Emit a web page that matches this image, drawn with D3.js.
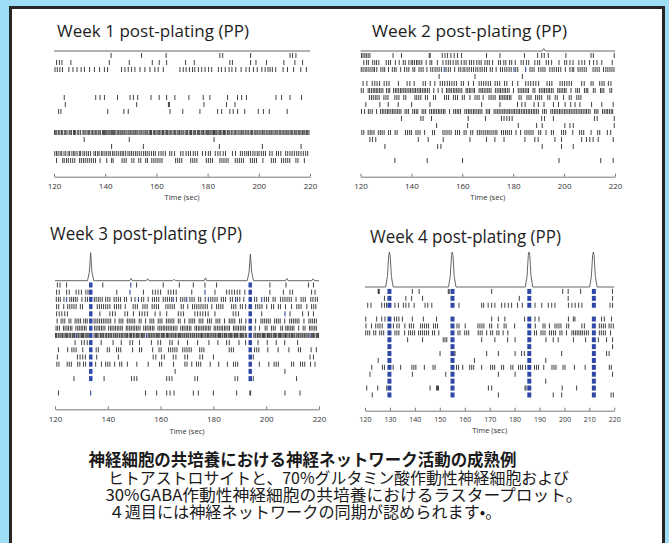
<!DOCTYPE html>
<html>
<head>
<meta charset="utf-8">
<script src="https://cdn.jsdelivr.net/npm/d3@7"></script>
<style>
html, body { margin: 0; padding: 0; background: #9fdcf5; }
svg { display: block; }
</style>
</head>
<body>
<svg id="chart" width="669" height="543"></svg>
<script>
// Spike times (sec) per electrode row, 16 rows per well
const week1Rows = [
  [142.3,154.2,163.8,184.8,185.9,196.8,212.2,213.2,214.5],
  [121.0,122.1,123.1,126.6,141.6,149.4,158.4,161.1,164.0,171.4,174.8,188.7,189.7,196.8,198.9,203.0,209.8,214.1,217.1],
  [120.4,121.3,122.3,123.3,125.8,127.4,129.0,130.6,131.9,133.9,135.8,137.8,139.7,140.9,146.4,147.7,149.0,150.3,151.6,153.6,155.5,157.5,159.4,160.7,162.7,169.2,170.5,171.6,172.9,174.1,175.0,176.4,177.7,179.0,180.4,181.6,184.2,185.4,186.9,188.4,189.5,191.0,193.1,195.0,196.3,197.9,199.4,201.2,202.5,203.6,204.4,205.3,206.6,209.5,211.2,213.6,216.4,218.6],
  [], [], [],
  [124.0,136.3,138.0,139.7,144.8,149.7,151.0,152.7,157.9,161.1,164.0,167.2,172.7,178.3,180.9,187.8,191.7,193.3,195.2,206.7,208.9,212.2,216.7],
  [124.4,152.3,164.7,165.1,178.6,187.4,190.7],
  [121.8,122.7,141.0,147.3,149.0,165.3,170.3,177.0,183.9,185.5,188.7,190.0,191.7,194.5,199.8,201.8,204.1,211.1],
  [], [],
  [120.2,120.7,121.1,121.8,122.3,122.9,123.4,124.2,124.6,125.1,125.9,126.3,126.8,127.6,128.0,128.5,129.3,129.7,130.4,131.3,131.7,132.2,132.9,133.4,133.8,134.5,135.0,135.6,136.1,136.5,137.2,137.6,138.1,138.9,139.3,139.7,140.2,140.6,141.1,141.5,141.9,142.4,142.8,143.3,143.7,144.2,144.9,145.3,145.8,146.2,146.7,147.3,147.7,148.2,148.9,149.3,149.8,150.4,150.9,151.3,151.9,152.4,152.8,153.5,154.0,154.4,155.1,155.6,156.0,156.6,157.2,157.7,158.1,158.8,159.3,159.8,160.3,160.9,161.3,161.8,162.4,162.8,163.4,163.9,164.3,164.9,165.4,165.8,166.5,167.0,167.4,168.1,168.5,169.0,169.6,170.0,170.5,171.2,171.7,172.1,172.8,173.3,173.7,174.4,174.8,175.3,176.0,176.4,176.9,177.5,177.9,178.4,179.0,179.5,179.9,180.4,180.9,181.3,181.8,182.3,182.7,183.2,183.6,184.1,184.7,185.1,185.6,186.2,186.6,187.1,187.8,188.3,188.7,189.4,189.9,190.6,191.0,191.5,192.2,192.7,193.3,193.8,194.2,194.9,195.4,195.9,196.6,197.1,197.5,198.2,198.8,199.3,199.7,200.4,200.9,201.5,202.0,202.4,203.1,203.6,204.1,204.7,205.1,205.6,206.3,206.7,207.2,207.9,208.3,208.7,209.4,209.8,210.3,210.9,211.4,211.8,212.5,212.9,213.3,214.0,214.5,214.9,215.6,216.0,216.5,217.1,217.6,218.0,218.6,219.1,219.6],
  [131.8,149.4,182.5],
  [142.5,154.9,184.6,201.4,216.5],
  [120.3,121.0,121.6,122.4,123.0,123.9,124.6,125.5,126.1,127.0,127.7,128.2,129.0,129.9,130.4,131.3,132.0,132.8,133.5,134.3,135.6,136.2,137.0,137.6,138.5,139.1,139.9,140.6,141.4,142.0,142.9,143.5,144.3,145.1,145.9,146.6,147.2,148.0,148.9,149.6,150.3,151.0,151.8,152.5,153.3,154.1,155.0,155.7,156.4,157.2,158.1,158.9,159.6,160.9,161.8,162.6,163.5,165.2,166.0,167.1,169.5,170.4,171.6,172.5,173.3,174.4,175.2,176.1,178.0,179.2,180.3,181.1,183.0,184.0,184.9,186.1,187.0,189.7,190.9,192.8,193.6,194.5,195.3,196.0,196.8,197.7,198.5,199.4,200.1,201.0,201.8,202.6,204.3,205.2,206.9,207.7,208.6,210.5,211.3,212.2,213.0,213.9,214.8,215.6,216.5,217.4,218.3,219.1],
  [121.0,123.4,124.0,124.9,125.6,126.5,127.3,128.1,130.0,130.7,131.5,132.2,133.0,133.8,134.6,135.4,136.2,138.0,140.6,142.5,143.1,146.6,147.4,148.2,150.4,151.2,153.1,153.9,155.8,156.5,158.2,159.0,159.8,160.6,161.4,162.2,167.5,168.3,169.1,169.9,173.4,174.2,175.0,175.8,179.5,180.3,181.1,181.9,184.8,185.6,186.4,187.2,188.0,190.8,191.6,192.4,193.2,194.0,196.7,197.5,198.3,199.1,201.6,204.9,205.7,206.5,208.9,209.7,210.5,211.3,212.1,214.5,215.3,217.8]
];

const week2Rows = [
  [120.4,121.0,121.7,122.3,123.0,123.7,132.8,136.1,147.0,147.4,152.1,153.2,154.2,155.5,156.8,158.1,159.7,169.5,174.8,184.4,189.6,191.2,192.2,193.8,200.7,210.6,211.5,219.7],
  [121.3,122.4,123.1,124.8,125.6,126.3,127.2,130.1,131.0,131.8,133.7,135.2,136.8,137.6,139.0,139.9,140.5,141.2,142.0,142.6,143.3,144.1,145.8,147.3,148.0,150.2,152.4,153.6,154.5,155.3,156.4,157.5,158.3,159.6,160.7,161.5,162.8,163.6,164.5,165.7,166.6,167.4,168.9,169.8,170.6,171.9,174.2,175.0,176.3,177.1,178.6,179.4,180.8,183.1,184.0,185.2,186.1,188.5,189.6,190.4,193.0,193.9,195.1,198.0,200.2,201.0,202.3,203.5,205.8,207.0,208.1,210.0,211.6,212.9,214.8,218.9],
  [120.3,121.0,121.8,122.5,123.3,124.1,124.9,125.5,126.4,128.0,128.8,129.5,131.0,132.5,133.3,134.0,135.8,137.3,138.2,139.0,140.6,141.3,143.0,143.8,144.6,146.1,147.6,148.4,149.3,150.1,150.9,151.8,153.6,154.5,155.3,157.0,158.6,159.4,160.3,161.0,161.9,162.7,163.6,164.4,165.3,166.1,167.0,167.8,168.7,169.5,171.0,171.8,173.3,175.0,175.8,176.7,177.5,178.4,179.2,181.0,181.8,186.6,187.4,188.2,190.0,190.9,191.7,192.5,194.4,195.3,196.1,197.0,197.8,198.7,200.5,202.3,203.2,203.8,205.5,206.3,207.1,207.9,208.7,211.4,212.2,213.0,213.8,215.5,216.4,217.2,218.0,218.8,219.6],
  [150.9,165.0,183.6],
  [121.0,122.5,124.6,125.6,126.5,127.5,129.3,130.3,131.2,134.9,138.3,139.4,141.1,144.6,145.5,147.4,149.2,151.3,152.2,153.1,154.1,155.0,155.9,156.8,157.7,159.6,160.5,162.4,164.4,166.6,167.5,168.4,169.3,170.2,171.1,172.9,173.8,174.7,176.6,177.5,179.7,181.8,184.9,185.9,186.9,187.9,188.9,190.0,193.3,194.3,195.2,198.4,199.3,200.2,201.1,202.0,202.9,206.9,207.9,210.6,211.4,214.0,214.9,215.7,217.4,218.4],
  [120.3,121.1,123.0,123.6,124.3,125.0,125.6,126.2,126.8,127.5,128.1,128.8,130.2,130.9,131.5,133.0,133.7,134.3,135.0,135.7,136.3,137.0,137.6,138.3,139.0,139.6,140.3,141.0,141.6,142.3,143.0,143.6,144.3,145.0,145.6,146.3,147.0,148.8,150.5,152.1,153.8,154.4,155.1,155.7,156.5,157.1,157.8,158.4,159.1,159.8,161.5,162.1,162.8,163.4,164.2,164.8,166.6,167.3,167.9,168.6,169.3,170.0,170.6,171.3,173.0,173.7,174.4,175.0,175.7,176.4,177.0,177.7,178.4,180.1,182.0,182.7,183.4,184.0,184.7,185.4,186.0,187.8,188.5,190.3,191.0,191.7,192.3,193.0,193.7,194.3,195.0,195.7,197.5,198.1,198.8,199.5,200.2,200.8,202.7,204.6,205.3,206.0,208.0,208.7,209.3,211.5,212.2,214.3,214.9,215.6,218.0,218.7],
  [123.5,124.3,125.0,125.8,126.5,127.3,129.2,130.0,130.8,133.5,134.3,135.1,137.0,137.8,141.4,142.1,142.9,143.7,145.5,146.3,148.7,149.5,153.0,153.8,154.6,156.5,157.3,158.1,160.0,160.8,163.0,165.0,165.8,166.6,168.2,170.5,171.3,172.1,172.9,174.6,175.2,175.9,176.5,177.2,177.8,178.5,179.1,182.3,183.1,185.4,186.2,187.0,188.8,189.6,190.4,191.2,193.6,194.4,196.5,197.3,199.8,202.0,202.8,205.0,205.8,206.6],
  [122.1,127.6,130.9,134.8,140.1,147.3,167.6,174.8,181.7,183.4,184.7,188.2,189.9,192.1,195.8,197.8,200.4,202.6,204.3,206.2,210.8,214.8,219.3],
  [120.4,121.6,123.1,123.8,124.6,126.3,127.9,128.6,129.2,129.9,130.6,131.2,131.9,132.6,133.2,133.9,134.6,135.2,135.9,137.5,138.2,138.9,140.5,141.2,141.9,142.5,144.2,144.9,145.6,147.2,147.9,148.6,149.2,149.9,150.6,151.2,151.9,152.6,153.2,155.0,156.6,157.3,158.0,158.6,159.3,161.0,161.7,162.4,163.0,163.7,164.4,165.0,165.7,166.4,167.0,167.7,169.4,170.1,170.7,172.5,173.2,173.9,174.5,175.2,175.9,176.5,177.2,177.9,178.5,179.2,179.9,180.5,181.2,181.9,182.5,183.2,183.9,184.5,185.2,185.9,186.5,187.2,187.9,188.5,189.2,189.9,191.6,192.3,193.0,194.8,195.5,196.2,196.8,197.5,198.2,198.8,199.5,200.2,200.8,201.5,202.2,202.8,203.5,204.2,204.8,205.5,206.2,206.8,207.5,208.2,208.8,209.5,210.2,212.0,212.6,213.3,215.1,215.8,216.5,217.1,217.8,218.5,219.1],
  [136.1,143.7,144.6,147.9,162.3,169.1,175.4,176.4,177.5,178.5,179.6,191.2,192.3,195.8,211.9,213.0,219.7],
  [149.9,162.1,182.0,189.2,191.4,200.3,202.3,203.6,219.7],
  [120.5,121.3,123.0,123.8,124.5,125.3,127.0,127.8,128.5,129.3,131.0,131.8,133.6,134.4,137.7,138.5,139.3,140.0,141.8,142.6,143.4,145.2,148.3,149.1,152.4,153.2,154.0,154.8,155.6,157.3,158.1,158.9,160.7,161.5,163.3,164.1,165.9,166.7,167.4,168.2,169.0,169.8,170.5,171.3,172.1,172.9,173.6,175.4,176.2,177.0,177.7,178.5,179.3,181.1,182.9,184.6,185.4,186.2,187.0,187.8,190.0,190.8,192.9,195.0,195.8,199.0,199.8,200.6,203.4,206.1,206.9,207.7,210.6,213.2,214.0,217.0,218.3],
  [123.7,124.7,126.0,142.7,146.6,152.5,163.0,169.5,172.8,176.4,184.6,188.5,189.8,196.4,199.0,206.9,208.8,210.1,211.4,213.4,219.3],
  [129.6,150.3,151.6,191.4,199.0,203.6],
  [],
  [133.5,146.2,160.1,198.0,214.4,219.3]
];
const week2Blue = [[], [], [152.9,180.3,184.9], [], [], [], [], [], [], [], [], [], [], [], [], []];

const week3Rows = [
  [120.9,121.9,124.4,138.1,150.9,161.0,167.1,172.4,176.8,181.2,201.4,207.5,216.0,217.9],
  [120.6,121.6,124.4,125.4,128.0,129.0,130.0,131.7,132.5,143.4,153.5,157.0,158.0,159.0,160.0,162.9,163.9,164.9,165.9,171.8,180.6,185.0,186.0,187.0,188.0,189.0,190.0,191.9,201.4,206.5,209.0,210.0,217.2,218.5],
  [120.5,121.3,122.0,123.4,125.6,126.3,127.0,127.7,128.4,130.2,131.5,132.3,134.9,135.6,136.4,137.1,137.9,139.2,140.0,140.8,142.4,143.2,144.0,144.8,146.3,147.1,148.9,150.3,152.8,153.6,155.3,156.9,157.7,158.5,159.3,161.0,161.8,162.6,163.4,164.2,166.0,167.6,168.4,169.2,171.1,171.9,172.7,174.4,175.2,176.9,179.0,179.8,180.6,181.4,183.0,183.8,184.6,186.4,187.2,189.1,190.0,191.5,195.6,196.4,199.3,200.1,200.9,202.6,203.4,205.4,206.3,207.1,207.9,208.7,209.5,211.3,213.2,214.0,214.8,216.9,217.7,218.6,219.4],
  [120.6,121.4,123.3,124.8,125.6,126.4,127.2,128.0,129.6,130.4,136.0,136.8,137.6,138.4,139.2,140.0,140.8,142.5,143.3,144.1,144.9,146.6,149.6,150.4,151.2,153.3,154.1,154.9,156.8,157.6,158.4,159.2,162.0,162.8,163.6,164.4,165.2,167.8,168.6,170.3,172.1,172.9,173.7,174.5,175.3,176.1,176.9,177.7,179.4,181.2,182.0,182.8,183.6,186.9,187.7,188.5,190.2,191.0,192.2,196.0,196.8,197.6,198.4,200.2,202.0,202.8,204.6,205.4,207.3,209.6,211.6,212.4,213.2,215.4,217.2,218.0,218.8],
  [120.6,121.6,122.6,123.7,124.7,137.0,140.8,141.8,142.8,146.5,147.5,149.7,152.0,153.0,154.0,155.0,157.9,159.8,162.3,166.7,167.7,168.7,173.0,174.0,175.0,176.0,177.0,178.0,180.6,187.5,188.5,189.5,198.3,209.0,213.8,216.0,217.9],
  [120.8,122.3,123.0,123.7,125.3,126.0,127.6,128.3,129.0,129.7,130.9,131.6,132.2,134.8,135.5,136.2,136.9,137.6,138.3,139.0,139.7,140.4,141.1,142.7,144.3,145.0,145.7,147.4,148.1,148.8,149.5,150.2,151.9,152.6,154.3,156.0,156.7,157.4,159.1,159.8,160.5,162.2,162.9,163.6,164.3,165.0,166.7,167.4,169.1,170.8,171.5,172.2,172.9,174.6,175.3,176.0,177.8,178.5,179.2,181.0,181.7,182.4,184.2,186.0,186.7,187.4,188.1,189.9,190.6,192.3,196.0,198.0,198.7,199.4,200.1,200.8,201.5,203.2,203.9,204.6,205.3,207.0,208.9,209.6,210.3,211.0,211.7,212.4,214.3,216.2,216.9,217.6,218.3,219.0],
  [120.4,121.0,121.7,123.2,123.8,124.5,125.1,125.8,126.4,127.9,128.6,129.2,129.9,130.5,131.2,131.8,135.0,135.6,136.3,136.9,137.6,138.2,138.9,140.3,141.0,141.6,142.3,142.9,143.6,144.2,144.9,145.5,147.0,147.6,148.3,148.9,149.6,150.2,150.9,151.5,152.2,153.6,154.3,154.9,155.6,156.2,156.9,157.5,159.0,159.7,160.3,161.0,161.6,162.3,162.9,163.6,164.2,164.9,165.5,166.2,167.6,168.3,168.9,169.6,170.2,170.9,171.5,173.0,173.6,174.3,174.9,175.6,176.2,176.9,177.5,178.2,178.8,180.3,180.9,181.6,182.2,182.9,183.5,184.2,184.8,185.5,186.1,187.6,188.2,188.9,189.5,190.2,190.8,191.5,192.1,195.8,197.5,199.6,200.3,202.0,202.7,203.4,205.5,206.2,207.4,208.0,208.6,209.3,209.9,210.5,212.3,214.0,214.7,216.4,217.0,217.7,218.4,219.0],
  [120.2,120.6,121.2,121.5,122.0,122.6,122.9,123.4,123.9,124.3,124.7,125.3,125.7,126.0,126.6,127.1,127.4,128.0,128.7,129.0,129.5,130.0,130.4,130.8,131.4,131.8,132.2,132.6,134.8,135.3,135.7,136.0,136.6,137.2,137.5,137.9,138.4,139.0,139.4,139.7,140.3,140.8,141.2,141.5,142.1,142.7,143.0,143.5,143.8,144.4,145.0,145.3,145.7,146.2,146.8,147.2,147.5,148.1,148.6,149.0,149.6,149.9,150.3,150.9,151.3,151.7,152.2,152.8,153.1,153.6,154.0,155.3,155.7,156.0,156.6,157.1,157.5,157.9,158.5,158.9,159.3,159.7,160.3,160.8,161.1,161.6,162.2,162.6,162.9,163.5,164.0,164.3,164.8,165.4,165.7,166.2,166.8,167.1,167.6,168.1,168.5,169.0,169.6,169.9,170.4,170.7,171.3,171.9,172.2,172.7,173.0,173.6,174.2,174.5,175.0,175.5,175.8,176.4,176.9,177.2,177.8,178.1,178.7,179.1,179.5,180.1,180.6,180.9,181.4,181.9,182.3,182.7,183.3,183.6,184.2,184.7,185.0,185.6,186.0,186.5,186.9,187.4,188.0,188.3,188.8,189.1,189.7,190.3,190.6,191.1,191.5,192.1,192.6,195.3,195.8,196.1,196.7,197.2,197.6,198.0,198.6,199.0,199.4,199.9,200.5,200.8,201.3,201.8,202.1,202.7,203.2,203.5,204.0,204.6,205.0,205.4,205.9,206.4,206.8,207.3,207.6,208.2,208.7,209.0,209.6,210.0,210.5,210.8,211.4,212.0,212.3,212.8,213.2,213.7,214.3,214.6,215.1,215.5,216.1,217.1,217.6,217.9,218.4,219.0,219.4,219.8],
  [127.6,130.1,131.1,132.2,137.5,142.0,145.1,148.4,149.4,152.0,156.5,159.0,160.0,163.5,164.4,166.7,170.2,174.0,178.3,181.7,185.0,186.0,189.7,192.2,196.9,200.4,203.8,207.0,211.9],
  [121.3,124.8,126.4,127.2,128.0,130.5,135.6,136.4,139.8,140.6,143.3,144.1,144.9,149.4,152.0,152.8,157.0,159.4,160.2,163.0,163.8,164.6,165.4,166.2,168.4,169.2,170.0,170.8,171.6,174.8,175.6,176.4,186.0,186.8,187.6,195.6,196.4,197.2,200.6,204.5,208.6,212.2,213.0,217.0,219.0],
  [120.9,128.5,129.5,130.5,131.5,135.8,144.0,157.2,158.2,160.4,161.4,164.8,165.8,169.2,170.2,174.9,175.9,180.0,195.1,216.6,217.9],
  [120.7,121.5,124.6,125.4,126.2,128.6,129.4,130.8,131.6,135.4,137.6,139.2,140.0,140.8,142.6,144.5,145.3,147.4,151.0,155.3,159.6,160.4,164.9,169.2,170.0,171.8,173.6,174.4,175.2,178.8,182.0,185.3,187.6,188.4,189.2,197.4,201.0,203.0,203.8,204.6,209.6,210.4,213.0,213.8,214.6,216.8,218.5],
  [165.5,207.1],
  [127.2,138.6,149.0,150.0,151.0,162.3,163.3,164.3,173.0,174.0,188.2,189.2,195.1,211.5],
  [],
  [121.3,154.3,158.5,162.3,163.6,165.1,172.4,174.3,180.0,188.8,193.8,194.1,207.1,212.8]
];
const week3Blue = [
  [148.7], [148.4,176.8], [124.4,151.6,164.8,169.9,178.1,188.4,198.3], [], [207.1], [], [],
  [128.2,154.7,216.6], [], [], [], [], [], [], [], [133.5]
];

const week4Rows = [
  [125.3,125.5,125.7,139.0,141.7,153.4,153.8,170.8,199.3,201.5,206.5,219.3],
  [127.8,136.4,138.7,143.1,181.9,201.5,219.3],
  [121.1,122.4,126.7,127.8,128.6,132.0,133.4,135.4,136.4,137.6,139.7,144.1,145.2,146.8,157.7,166.8,167.6,169.4,170.8,172.1,174.8,176.1,177.5,178.8,181.2,183.1,188.2,190.9,193.5,194.9,196.2,201.6,203.0,204.3,205.7,207.0,218.3,219.3],
  [],
  [120.3,124.7,126.7,128.0,131.8,132.7,133.6,135.0,139.0,143.4,148.7,170.8,173.5,176.1,184.0,188.2,189.8,201.6,203.6,204.2,214.9,216.0,218.9],
  [120.4,122.6,124.3,125.2,126.0,126.9,131.4,132.8,133.7,136.0,137.8,138.6,139.5,142.3,143.1,143.9,144.7,145.5,147.5,148.3,149.1,156.9,157.7,160.2,165.3,166.1,166.9,167.7,170.0,170.8,173.3,175.8,176.6,180.0,188.3,191.4,192.2,194.0,196.2,197.0,197.8,198.6,200.9,201.7,207.0,208.0,214.0,214.8,215.6,216.4,217.9,218.7,219.6],
  [120.3,121.1,121.9,123.5,124.3,125.9,126.7,127.5,132.0,132.8,133.6,135.9,137.5,138.3,139.1,139.9,141.5,142.3,143.1,143.9,144.7,145.5,147.1,147.9,149.6,157.3,158.1,160.0,160.8,161.6,165.4,166.2,167.0,168.8,170.4,171.2,172.9,173.7,175.4,177.3,188.0,188.8,190.6,191.4,192.2,194.0,194.8,195.6,196.4,198.2,199.0,200.8,203.0,203.7,204.4,205.1,205.8,206.5,207.2,208.0,208.8,209.6,214.0,214.8,215.6,216.4,218.5],
  [137.1,143.1,151.4,152.1,152.8,166.8,172.1,177.2,180.2,192.6,195.5,197.5,203.6,208.5,213.6,216.9,219.3],
  [219.3],
  [150.1,156.1,168.8,173.5,180.2,182.8,183.9,198.9,216.9,217.9],
  [125.3,163.9,192.5],
  [122.7,127.0,127.8,131.3,134.3,138.8,139.6,140.4,143.8,147.3,148.1,156.7,157.5,159.2,162.0,162.8,163.6,166.8,170.4,171.2,172.0,174.8,175.6,178.5,179.3,181.6,182.4,183.2,184.4,188.0,188.8,189.6,191.7,195.0,195.8,196.6,199.4,200.2,204.0,208.3,218.0,218.8],
  [122.0,139.0,152.4,173.5,180.2,219.3],
  [192.5],
  [120.7,125.1,128.7,146.1,148.7,149.1,149.5,169.5,170.8,184.2,184.6,199.1,204.9],
  [122.9,173.5,195.5,198.9,218.7,219.6]
];

// Network bursts: [start, end] in sec, and the rows that fire in them
const week3Bursts = [[132.9, 134.2], [193.3, 194.6]];
const week3BurstRows = [0, 1, 2, 3, 4, 5, 6, 7, 8, 9, 10, 11, 12, 13];
const week4Bursts = [[129.0, 130.6], [154.3, 155.9], [185.1, 186.7], [211.0, 212.6]];
const week4BurstRows = [0, 1, 2, 4, 5, 6, 7, 8, 9, 10, 11, 12, 13, 14, 15];

// Population activity trace above each raster: [time, relative level]
const week1Hist = [[120, 0], [220, 0]];
const week2Hist = [[120, 0], [191.4, 0], [192, 1], [192.6, 0], [220, 0]];
const week3Hist = [[120, 0], [132.3, 0], [133.0, 0.3], [133.5, 1], [134.0, 0.3], [134.7, 0],
  [148.3, 0], [148.8, 0.08], [149.3, 0], [154.6, 0], [155.1, 0.07], [155.6, 0],
  [164.6, 0], [165.1, 0.05], [165.6, 0], [176.5, 0], [177.0, 0.1], [177.5, 0],
  [192.8, 0], [193.5, 0.3], [194.0, 0.95], [194.5, 0.3], [195.2, 0],
  [207.3, 0], [207.8, 0.08], [208.3, 0], [217.3, 0], [217.8, 0.07], [218.3, 0], [220, 0]];
const week4Hist = [[120, 0],
  [128.3, 0], [129.0, 0.3], [129.5, 0.9], [129.8, 1], [130.1, 0.9], [130.6, 0.3], [131.3, 0],
  [153.5, 0], [154.2, 0.3], [154.7, 0.9], [155.0, 1], [155.3, 0.9], [155.8, 0.3], [156.5, 0],
  [184.3, 0], [185.0, 0.3], [185.5, 0.9], [185.8, 1], [186.1, 0.9], [186.6, 0.3], [187.3, 0],
  [210.1, 0], [210.8, 0.3], [211.3, 0.9], [211.6, 1], [211.9, 0.9], [212.4, 0.3], [213.1, 0],
  [220, 0]];

const ticks20 = [120, 140, 160, 180, 200, 220];
const ticks10 = [120, 130, 140, 150, 160, 170, 180, 190, 200, 210, 220];

const titles = ["Week 1 post-plating (PP)", "Week 2 post-plating (PP)", "Week 3 post-plating (PP)", "Week 4 post-plating (PP)"];
const axisLabel = "Time (sec)";
const captionTitle = "神経細胞の共培養における神経ネットワーク活動の成熟例";
const captionLines = [
  "ヒトアストロサイトと、70%グルタミン酸作動性神経細胞および",
  "30%GABA作動性神経細胞の共培養におけるラスタープロット。",
  "４週目には神経ネットワークの同期が認められます•。"
];

const BLUE = "#2f47a6";
const INK = "#2b2b2b";

const svg = d3.select("#chart");

// frame
svg.append("rect").attr("x", 0).attr("y", 0).attr("width", 669).attr("height", 543).attr("fill", "#9fdcf5");
svg.append("rect")
  .attr("x", 10.5).attr("y", 7.5).attr("width", 653).attr("height", 545)
  .attr("fill", "#fff").attr("stroke", "#262626").attr("stroke-width", 3);

const panels = [
  { title: titles[0], rows: week1Rows, blue: null, bursts: [], burstRows: [], hist: week1Hist, ticks: ticks20,
    x0: 54, x1: 310, tx: 57, ty: 37, tw: 192, fs: 17, histBase: 51, histH: 0, rowTop: 52, rowStep: 7, axisY: 176.7, pad: 7, tickFs: 8, labelY: 199.5 },
  { title: titles[1], rows: week2Rows, blue: week2Blue, bursts: [], burstRows: [], hist: week2Hist, ticks: ticks20,
    x0: 360.5, x1: 615, tx: 372, ty: 37, tw: 195, fs: 17, histBase: 51, histH: 2.5, rowTop: 52, rowStep: 7, axisY: 176.7, pad: 7, tickFs: 8, labelY: 199.5 },
  { title: titles[2], rows: week3Rows, blue: week3Blue, bursts: week3Bursts, burstRows: week3BurstRows, hist: week3Hist, ticks: ticks20,
    x0: 55, x1: 319, tx: 50, ty: 240, tw: 192, fs: 18, histBase: 280.7, histH: 28, rowTop: 281.4, rowStep: 7.2, axisY: 409.3, pad: 7.5, tickFs: 8, labelY: 434 },
  { title: titles[3], rows: week4Rows, blue: null, bursts: week4Bursts, burstRows: week4BurstRows, hist: week4Hist, ticks: ticks10,
    x0: 365, x1: 614.3, tx: 370, ty: 242.5, tw: 191, fs: 18, histBase: 287, histH: 35, rowTop: 288, rowStep: 6.9, axisY: 410.7, pad: 6.8, tickFs: 7, labelY: 432.5 }
];

panels.forEach(p => drawPanel(p));

function drawPanel(p) {
  const x = d3.scaleLinear().domain([120, 220]).range([p.x0, p.x1]);
  const y = d3.scaleBand().domain(d3.range(16)).range([p.rowTop, p.rowTop + 16 * p.rowStep]);
  const hy = d3.scaleLinear().domain([0, 1]).range([p.histBase, p.histBase - p.histH]);
  const spikeH = 5;
  const off = (y.bandwidth() - spikeH) / 2;
  const g = svg.append("g");

  g.append("text")
    .attr("x", p.tx).attr("y", p.ty)
    .attr("font-family", "'Open Sans', sans-serif")
    .attr("font-size", p.fs)
    .attr("fill", "#1e1e1e")
    .attr("textLength", p.tw)
    .attr("lengthAdjust", "spacingAndGlyphs")
    .text(p.title);

  g.append("path")
    .datum(p.hist)
    .attr("d", d3.line().x(d => x(d[0])).y(d => hy(d[1])))
    .attr("fill", "none")
    .attr("stroke", "#555")
    .attr("stroke-width", 0.9);

  // burst bars
  p.bursts.forEach(b => {
    g.selectAll(null).data(p.burstRows).join("rect")
      .attr("x", x(b[0]))
      .attr("width", x(b[1]) - x(b[0]))
      .attr("y", r => y(r) + off)
      .attr("height", spikeH)
      .attr("fill", BLUE);
  });

  p.rows.forEach((times, r) => {
    g.selectAll(null).data(times).join("line")
      .attr("x1", d => x(d)).attr("x2", d => x(d))
      .attr("y1", y(r) + off).attr("y2", y(r) + off + spikeH)
      .attr("stroke", INK)
      .attr("stroke-width", 0.9);
    if (p.blue) {
      g.selectAll(null).data(p.blue[r]).join("line")
        .attr("x1", d => x(d)).attr("x2", d => x(d))
        .attr("y1", y(r) + off).attr("y2", y(r) + off + spikeH)
        .attr("stroke", BLUE)
        .attr("stroke-width", 1.1);
    }
  });

  const axis = d3.axisBottom(x)
    .tickValues(p.ticks)
    .tickSizeInner(-3)
    .tickSizeOuter(0)
    .tickPadding(p.pad)
    .tickFormat(d3.format("d"));
  const ag = g.append("g")
    .attr("transform", `translate(0,${p.axisY})`)
    .call(axis);
  ag.attr("font-family", "'Open Sans', sans-serif").attr("font-size", p.tickFs);
  ag.select(".domain").attr("stroke", "#555").attr("stroke-width", 0.8);
  ag.selectAll(".tick line").attr("stroke", "#555").attr("stroke-width", 0.8);
  ag.selectAll(".tick text").attr("fill", "#333");

  g.append("text")
    .attr("x", (p.x0 + p.x1) / 2).attr("y", p.labelY)
    .attr("text-anchor", "middle")
    .attr("font-family", "'Open Sans', sans-serif")
    .attr("font-size", 7.5)
    .attr("fill", "#333")
    .text(axisLabel);
}

// caption: one text block, one tspan per line
const capX = [88.5, 108, 105.5, 108.5];
const capY = [466, 484, 501, 517.5];
const capW = [428, 461, 477, 393];
const capText = [captionTitle].concat(captionLines);
const cap = svg.append("text")
  .attr("font-family", "'Noto Sans CJK JP', sans-serif")
  .attr("font-size", 16)
  .attr("fill", "#1a1a1a");
cap.selectAll("tspan").data(capText).join("tspan")
  .attr("x", (d, i) => capX[i])
  .attr("y", (d, i) => capY[i])
  .attr("font-weight", (d, i) => i === 0 ? "bold" : null)
  .attr("font-size", (d, i) => i === 0 ? 16.5 : 16)
  .attr("textLength", (d, i) => capW[i])
  .attr("lengthAdjust", "spacingAndGlyphs")
  .text(d => d);
</script>
</body>
</html>
